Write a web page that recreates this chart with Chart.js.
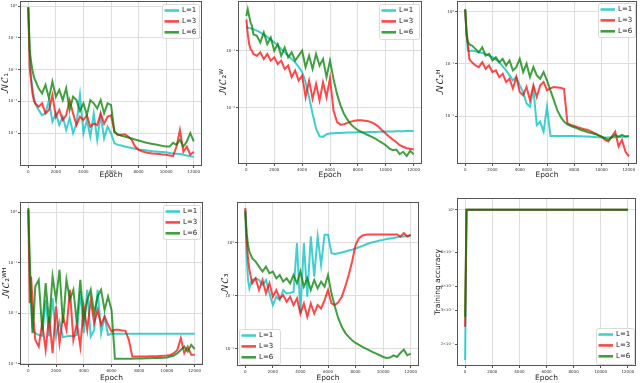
<!DOCTYPE html>
<html><head><meta charset="utf-8">
<script src="https://cdn.jsdelivr.net/npm/chart.js@4.4.1/dist/chart.umd.min.js"></script>
<style>
html,body{margin:0;padding:0;background:#fff;width:640px;height:383px;overflow:hidden;position:relative}
canvas{position:absolute}
</style></head><body>
<canvas id="c1" width="214" height="182" style="left:0px;top:0px"></canvas>
<canvas id="c2" width="213" height="182" style="left:214px;top:0px"></canvas>
<canvas id="c3" width="213" height="182" style="left:427px;top:0px"></canvas>
<canvas id="c4" width="214" height="193" style="left:0px;top:190px"></canvas>
<canvas id="c5" width="213" height="193" style="left:214px;top:190px"></canvas>
<canvas id="c6" width="213" height="193" style="left:427px;top:190px"></canvas>
<script>
// ---------------- data ----------------
const epochs = [0,100,200,300,400,500,
  750,1000,1250,1500,1750,2000,2250,2500,2750,3000,
  3250,3500,3750,4000,4250,4500,4750,5000,5250,5500,
  5750,6000,6250,6500,6750,7000,7250,7500,7750,8000,
  8250,8500,8750,9000,9250,9500,9750,10000,10250,10500,
  10750,11000,11250,11500,11750,12000];
const seriesLabels = ['L=1','L=3','L=6'];
const xTicks = [0,2000,4000,6000,8000,10000,12000];

// NC1
const nc1_L1 = [0.91,4.2e-2,6.0e-3,2.6e-3,1.4e-3,8.7e-4,
  5.4e-4,3.7e-4,4.2e-4,1.1e-3,2.3e-4,4.2e-4,1.8e-4,3.3e-4,1.26e-4,3.0e-4,
  1.0e-4,2.0e-4,1.6e-3,1.0e-4,2.6e-4,7.8e-5,4.2e-4,6.2e-5,3.7e-4,6.9e-5,
  1.6e-4,1.0e-4,4.8e-5,4.3e-5,4.1e-5,3.8e-5,3.6e-5,3.4e-5,3.25e-5,3.1e-5,
  3.0e-5,2.9e-5,2.8e-5,2.7e-5,2.65e-5,2.6e-5,2.55e-5,2.5e-5,2.4e-5,2.3e-5,
  2.25e-5,2.2e-5,2.1e-5,2.0e-5,1.9e-5,1.8e-5];
const nc1_L3 = [0.91,1.2e-2,4.7e-3,1.8e-3,1.1e-3,8.7e-4,
  6.8e-4,8.7e-4,4.2e-4,5.4e-4,1.6e-3,3.3e-4,5.4e-4,2.6e-4,3.7e-4,1.1e-3,
  4.2e-4,1.8e-4,3.3e-4,2.6e-4,3.7e-4,1.6e-4,2.0e-4,1.8e-4,4.2e-4,2.0e-4,
  3.3e-4,3.7e-4,1.1e-4,8.7e-5,9.0e-5,9.3e-5,7.8e-5,6.2e-5,3.8e-5,3.0e-5,
  2.7e-5,2.5e-5,2.4e-5,2.3e-5,2.25e-5,2.2e-5,2.15e-5,2.1e-5,2.0e-5,1.9e-5,
  3.8e-5,1.26e-4,2.6e-5,3.8e-5,2.1e-5,2.6e-5];
const nc1_L6 = [0.91,4.2e-2,1.8e-2,9.8e-3,6.0e-3,4.7e-3,
  2.6e-3,1.8e-3,3.3e-3,1.26e-3,4.2e-3,1.4e-3,2.3e-3,1.1e-3,2.6e-3,5.4e-4,
  1.4e-3,1.1e-3,5.0e-4,8.7e-4,3.7e-4,1.1e-3,8.7e-4,6.0e-4,1.1e-3,4.2e-4,
  8.7e-4,7.8e-4,1.1e-4,9.3e-5,8.3e-5,7.8e-5,7.3e-5,6.8e-5,6.3e-5,5.9e-5,
  5.5e-5,5.1e-5,4.8e-5,4.6e-5,4.4e-5,4.2e-5,4.0e-5,3.8e-5,3.8e-5,5.0e-5,
  4.3e-5,6.2e-5,3.8e-5,5.5e-5,1.0e-4,5.5e-5];
const nc1Ticks = [1,0.1,0.01,0.001,0.0001];

// NC2^W
const nc2w_L1 = [0.255,0.254,0.25,0.247,0.243,0.239,
  0.225,0.209,0.192,0.175,0.157,0.140,0.123,0.107,0.094,0.0818,
  0.072,0.0626,0.052,0.0419,0.028,0.0153,0.00785,0.00431,0.00316,0.00308,
  0.00343,0.00352,0.00356,0.00359,0.00362,0.00364,0.00366,0.00367,0.00369,0.0037,
  0.00372,0.00373,0.00374,0.00376,0.00377,0.00378,0.0038,0.00381,0.00382,0.00384,
  0.00385,0.00386,0.00388,0.00389,0.0039,0.00392];
const nc2w_L3 = [0.356,0.195,0.131,0.107,0.1,0.0875,
  0.0818,0.0935,0.0716,0.0875,0.067,0.0765,0.0585,0.067,0.0479,0.0547,
  0.0343,0.0448,0.030,0.0366,0.0153,0.030,0.0144,0.0262,0.0134,0.028,
  0.0153,0.0333,0.00898,0.00562,0.00505,0.00512,0.00541,0.0057,0.00593,0.006,
  0.006,0.00593,0.0058,0.00555,0.0051,0.0046,0.004,0.00352,0.0031,0.00277,
  0.0025,0.0022,0.00207,0.00195,0.0019,0.00185];
const nc2w_L6 = [0.407,0.533,0.407,0.312,0.273,0.195,
  0.183,0.140,0.209,0.131,0.171,0.1,0.131,0.0818,0.114,0.0765,
  0.0935,0.067,0.0818,0.1,0.0512,0.0818,0.0479,0.0875,0.0547,0.0716,
  0.0343,0.067,0.0321,0.0175,0.011,0.00785,0.00618,0.00512,0.00448,0.00403,
  0.00376,0.00352,0.00329,0.00308,0.00288,0.00262,0.00242,0.0022,0.00193,0.0018,
  0.00185,0.00153,0.00169,0.00142,0.00175,0.00153];
const nc2wTicks = [0.1,0.01];

// NC2^H
const nc2h_L1 = [1.12,0.376,0.181,0.176,0.178,0.181,
  0.176,0.168,0.162,0.156,0.145,0.135,0.121,0.108,0.090,0.0752,
  0.0604,0.0485,0.056,0.0389,0.029,0.0174,0.0151,0.0337,0.00674,0.0078,
  0.00503,0.0151,0.00416,0.00416,0.00416,0.00416,0.00415,0.00414,0.00413,0.00412,
  0.0041,0.00408,0.00406,0.00404,0.004,0.00395,0.0039,0.00386,0.00386,0.00388,
  0.0039,0.0039,0.00395,0.004,0.004,0.00404];
const nc2h_L3 = [1.12,0.376,0.242,0.125,0.115,0.108,
  0.0936,0.087,0.108,0.0809,0.0936,0.0699,0.0752,0.056,0.065,0.0451,
  0.0521,0.0337,0.056,0.029,0.0251,0.0362,0.0202,0.0389,0.0233,0.0389,
  0.0451,0.0313,0.034,0.036,0.0355,0.035,0.033,0.00725,0.00674,0.00645,
  0.0061,0.00582,0.0056,0.00541,0.0050,0.00468,0.0043,0.00404,0.00349,0.00324,
  0.00404,0.00503,0.0026,0.00349,0.00209,0.00168];
const nc2h_L6 = [1.12,0.404,0.261,0.242,0.23,0.225,
  0.195,0.168,0.209,0.145,0.156,0.117,0.135,0.108,0.125,0.0936,
  0.117,0.0752,0.087,0.125,0.0699,0.101,0.056,0.087,0.0604,0.0521,
  0.0699,0.0485,0.0313,0.0202,0.013,0.0097,0.0078,0.00693,0.00645,0.00608,
  0.00575,0.00541,0.00515,0.00489,0.0047,0.00454,0.0043,0.00404,0.00376,0.00349,
  0.0039,0.00434,0.00404,0.00434,0.00404,0.00416];
const nc2hTicks = [1,0.1,0.01];

// NC2^WH
const nc2wh_L1 = [1.13,0.0627,0.0159,0.0055,0.00437,0.00405,
  0.00375,0.00359,0.0185,0.00348,0.02,0.00348,0.0069,0.00338,0.00348,0.00359,
  0.00348,0.00375,0.0272,0.00405,0.0293,0.00348,0.00471,0.0293,0.00405,0.00867,
  0.00375,0.00393,0.00393,0.00393,0.00393,0.00393,0.00393,0.00393,0.00393,0.00393,
  0.00393,0.00393,0.00393,0.00393,0.00393,0.00393,0.00393,0.00393,0.00393,0.00393,
  0.00393,0.00393,0.00393,0.00393,0.00393,0.00393];
const nc2wh_L3 = [1.13,0.0159,0.0538,0.0185,0.0064,0.00299,
  0.0022,0.0064,0.00189,0.00867,0.00163,0.0137,0.00256,0.00867,0.00471,0.0293,
  0.00299,0.0064,0.0022,0.0137,0.00471,0.0185,0.0064,0.0117,0.00593,0.00867,
  0.00593,0.00437,0.00471,0.00471,0.0046,0.0045,0.003,0.0014,0.0014,0.0014,
  0.0014,0.0014,0.00141,0.00142,0.00142,0.00143,0.00144,0.00146,0.0015,0.00163,
  0.00189,0.00322,0.00163,0.0022,0.00151,0.00151];
const nc2wh_L6 = [1.22,0.134,0.0185,0.00405,0.0101,0.0341,
  0.0462,0.00471,0.0397,0.0064,0.0538,0.0185,0.073,0.0064,0.0462,0.0185,
  0.0293,0.0064,0.0462,0.00745,0.0185,0.0293,0.0101,0.0216,0.0293,0.0117,
  0.0216,0.0117,0.00126,0.00126,0.00126,0.00127,0.00127,0.00127,0.00128,0.00128,
  0.00128,0.00129,0.00129,0.0013,0.0013,0.00131,0.00132,0.00134,0.0014,0.00146,
  0.00163,0.00189,0.0022,0.00175,0.00238,0.00195];
const nc2whTicks = [1,0.1,0.01,0.001];

// NC3
const nc3_L1 = [4.15,0.543,0.196,0.137,0.17,0.196,
  0.211,0.196,0.158,0.196,0.11,0.0661,0.095,0.0822,0.127,0.11,
  0.112,0.118,0.971,0.0459,0.971,0.095,1.3,0.227,1.3,0.378,
  1.4,1.4,0.628,0.61,0.625,0.647,0.675,0.706,0.735,0.77,
  0.815,0.865,0.915,0.97,1.01,1.05,1.09,1.12,1.16,1.19,
  1.22,1.26,1.28,1.3,1.32,1.34];
const nc3_L3 = [4.47,1.12,0.505,0.304,0.227,0.17,
  0.211,0.127,0.196,0.11,0.17,0.095,0.127,0.0883,0.102,0.0764,
  0.095,0.0661,0.0883,0.0459,0.0711,0.0398,0.0711,0.0459,0.0661,0.0572,
  0.0822,0.127,0.0711,0.0661,0.075,0.095,0.147,0.244,0.437,0.903,
  1.21,1.36,1.4,1.42,1.42,1.42,1.42,1.42,1.42,1.42,
  1.42,1.42,1.3,1.5,1.3,1.4];
const nc3_L6 = [3.86,1.5,0.903,0.676,0.585,0.505,
  0.437,0.351,0.283,0.351,0.263,0.283,0.211,0.244,0.183,0.211,
  0.17,0.244,0.17,0.283,0.147,0.211,0.127,0.196,0.137,0.183,
  0.147,0.244,0.11,0.0615,0.037,0.0257,0.0198,0.0166,0.0144,0.0128,
  0.0118,0.0108,0.0100,0.00929,0.0086,0.00803,0.0075,0.00695,0.00665,0.0068,
  0.00748,0.00695,0.00827,0.00957,0.00748,0.00803];
const nc3Ticks = [1,0.1,0.01];

// Training accuracy
const acc_L1 = [0.165,1,1,1,1,1,
  1,1,1,1,1,1,1,1,1,1,
  1,1,1,1,1,1,1,1,1,1,
  1,1,1,1,1,1,1,1,1,1,
  1,1,1,1,1,1,1,1,1,1,
  1,1,1,1,1,1];
const acc_L3 = [0.246,1,1,1,1,1,
  1,1,1,1,1,1,1,1,1,1,
  1,1,1,1,1,1,1,1,1,1,
  1,1,1,1,1,1,1,1,1,1,
  1,1,1,1,1,1,1,1,1,1,
  1,1,1,1,1,1];
const acc_L6 = [0.277,1,1,1,1,1,
  1,1,1,1,1,1,1,1,1,1,
  1,1,1,1,1,1,1,1,1,1,
  1,1,1,1,1,1,1,1,1,1,
  1,1,1,1,1,1,1,1,1,1,
  1,1,1,1,1,1];
const accTicks = [1,0.6,0.4,0.3,0.2];
const accTickLabels = ['10⁰','6×10⁻¹','4×10⁻¹','3×10⁻¹','2×10⁻¹'];

// ---------------- drawing ----------------
const COLORS = ['rgba(0,191,191,0.75)','rgba(255,0,0,0.72)','rgba(0,128,0,0.75)'];
const FONT = '"DejaVu Sans", "Noto Sans", sans-serif';
const MATHFONT = '"DejaVu Math TeX Gyre", "Noto Sans Math", "DejaVu Sans", serif';
const SUP = {'-':'⁻','0':'⁰','1':'¹','2':'²','3':'³','4':'⁴','5':'⁵','6':'⁶','7':'⁷','8':'⁸','9':'⁹'};
function decadeLabel(v){
  const e = Math.round(Math.log10(v));
  return '10' + String(e).split('').map(c => SUP[c]).join('');
}

const framePlugin = {
  id: 'frameLegend',
  afterDraw(chart, args, opts) {
    const {ctx, chartArea: a} = chart;
    ctx.save();
    ctx.strokeStyle = '#555';
    ctx.lineWidth = 1;
    ctx.strokeRect(Math.round(a.left) + 0.5, Math.round(a.top) + 0.5,
                   Math.round(a.right - a.left) - 1, Math.round(a.bottom - a.top) - 1);
    const w = opts.w, h = opts.h, ins = opts.inset;
    const bx = opts.corner[1] === 'r' ? a.right - ins - w : a.left + ins;
    const by = opts.corner[0] === 't' ? a.top + ins : a.bottom - ins - h;
    ctx.beginPath();
    if (ctx.roundRect) ctx.roundRect(bx + 0.5, by + 0.5, w, h, 2); else ctx.rect(bx + 0.5, by + 0.5, w, h);
    ctx.fillStyle = 'rgba(255,255,255,0.85)';
    ctx.fill();
    ctx.strokeStyle = '#d0d0d0';
    ctx.lineWidth = 0.8;
    ctx.stroke();
    chart.data.datasets.forEach((ds, i) => {
      const ry = by + 6.5 + i * 10.9;
      ctx.beginPath();
      ctx.moveTo(bx + 2.5, ry);
      ctx.lineTo(bx + 17, ry);
      ctx.strokeStyle = ds.borderColor;
      ctx.lineWidth = 2.6;
      ctx.stroke();
      ctx.fillStyle = '#222';
      ctx.font = '7px ' + FONT;
      ctx.textBaseline = 'middle';
      ctx.textAlign = 'left';
      ctx.fillText(ds.label, bx + 20, ry);
    });
    ctx.restore();
  }
};

function makeChart(cfg) {
  const {id, cell, area, series, yTicks, yLabels, yMin, yMax, yTitle, yTitleFont, yTitlePad, xTitlePad, legend, gridAt} = cfg;
  const datasets = series.map((s, i) => ({
    label: seriesLabels[i],
    data: s,
    borderColor: COLORS[i],
    backgroundColor: COLORS[i],
    borderWidth: 2,
    pointRadius: 0,
    tension: 0,
    fill: false,
    order: 3 - i
  }));
  new Chart(document.getElementById(id), {
    type: 'line',
    data: { labels: epochs, datasets },
    plugins: [framePlugin],
    options: {
      responsive: false,
      animation: false,
      devicePixelRatio: 1,
      layout: { padding: { left: 0, top: area.T - cell.y, right: cell.x + cell.w - area.R, bottom: 0 } },
      plugins: {
        legend: { display: false },
        tooltip: { enabled: false },
        frameLegend: legend
      },
      scales: {
        x: {
          type: 'linear',
          min: -600, max: 12600,
          afterBuildTicks: s => { s.ticks = xTicks.map(v => ({value: v})); },
          afterFit: s => { s.height = cell.y + cell.h - area.B; s.paddingLeft = 0; s.paddingRight = 0; },
          ticks: { font: { size: 4, family: FONT }, color: '#333', padding: 1.5, maxRotation: 0, autoSkip: false,
                   callback: v => String(v) },
          grid: { color: '#dedede', lineWidth: 1, drawTicks: true, tickLength: 2, tickColor: '#555' },
          border: { display: false },
          title: { display: true, text: 'Epoch', color: '#222', font: { size: 7.5, family: FONT }, padding: { top: 0, bottom: xTitlePad } }
        },
        y: {
          type: 'logarithmic',
          min: yMin, max: yMax,
          afterBuildTicks: s => { s.ticks = yTicks.map(v => ({value: v})); },
          afterFit: s => { s.width = area.L - cell.x; s.paddingTop = 0; s.paddingBottom = 0; },
          ticks: { font: { size: yLabels ? 3.6 : 4, family: FONT }, color: '#333', padding: 1, autoSkip: false,
                   callback: (v, i) => yLabels ? yLabels[yTicks.indexOf(v)] : decadeLabel(v) },
          grid: { color: c => (gridAt ? (c.tick && gridAt.includes(c.tick.value) ? '#dedede' : 'rgba(0,0,0,0)') : '#dedede'),
                  lineWidth: 1, drawTicks: true, tickLength: 2, tickColor: '#555' },
          border: { display: false },
          title: { display: true, text: yTitle, color: '#222', font: yTitleFont || { size: 9.5, family: MATHFONT }, padding: { top: yTitlePad, bottom: 0 } }
        }
      }
    }
  });
}

makeChart({id:'c1', cell:{x:0,y:0,w:214,h:182}, area:{L:20,T:1,R:202,B:166},
  series:[nc1_L1,nc1_L3,nc1_L6], yTicks:nc1Ticks, yMin:9.3e-6, yMax:1.44,
  yTitle:'𝒩𝒞₁', yTitlePad:-0.7, xTitlePad:2.5, legend:{corner:'tr', w:37, h:34, inset:3}});
makeChart({id:'c2', cell:{x:214,y:0,w:213,h:182}, area:{L:238,T:1,R:422,B:164},
  series:[nc2w_L1,nc2w_L3,nc2w_L6], yTicks:nc2wTicks, yMin:1.03e-3, yMax:0.745,
  yTitle:'𝒩𝒞₂ᵂ', yTitlePad:3.3, xTitlePad:2.5, legend:{corner:'tr', w:40, h:35, inset:3}});
makeChart({id:'c3', cell:{x:427,y:0,w:213,h:182}, area:{L:457,T:1,R:637,B:164},
  series:[nc2h_L1,nc2h_L3,nc2h_L6], yTicks:nc2hTicks, yMin:1.2e-3, yMax:1.62,
  yTitle:'𝒩𝒞₂ᴴ', yTitlePad:7.3, xTitlePad:2.5, legend:{corner:'tr', w:37, h:34, inset:2}});
makeChart({id:'c4', cell:{x:0,y:190,w:214,h:193}, area:{L:20,T:202,R:203,B:365},
  series:[nc2wh_L1,nc2wh_L3,nc2wh_L6], yTicks:nc2whTicks, yMin:9.5e-4, yMax:1.6,
  yTitle:'𝒩𝒞₂ᵂᴴ', yTitlePad:0.3, xTitlePad:0.8, legend:{corner:'tr', w:37, h:34, inset:3}});
makeChart({id:'c5', cell:{x:214,y:190,w:213,h:193}, area:{L:237,T:202,R:419,B:366},
  series:[nc3_L1,nc3_L3,nc3_L6], yTicks:nc3Ticks, yMin:4.7e-3, yMax:5.8,
  yTitle:'𝒩𝒞₃', yTitlePad:5.3, xTitlePad:0.8, legend:{corner:'bl', w:41, h:35, inset:2}});
makeChart({id:'c6', cell:{x:427,y:190,w:213,h:193}, area:{L:457,T:198,R:636,B:366},
  series:[acc_L1,acc_L3,acc_L6], yTicks:accTicks, yLabels:accTickLabels, yMin:0.154, yMax:1.15,
  yTitle:'Training accuracy', yTitleFont:{size:7.5, family:FONT}, yTitlePad:6.5, xTitlePad:0.8, gridAt:[1],
  legend:{corner:'br', w:38, h:36, inset:2}});
</script>
</body></html>
